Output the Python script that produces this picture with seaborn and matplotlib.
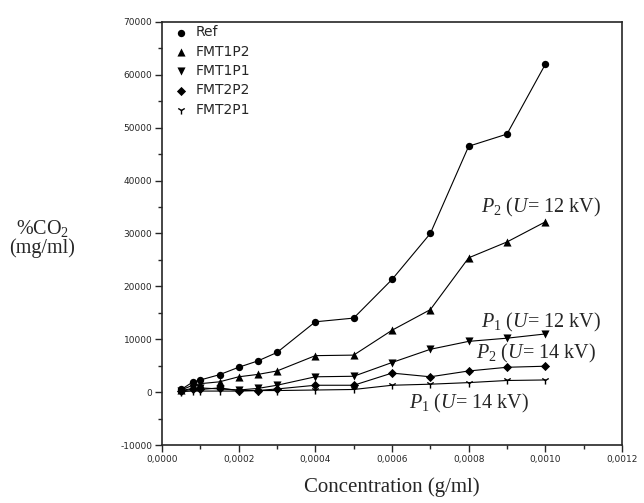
import matplotlib
matplotlib.use('agg')
import matplotlib.pyplot as plt
import seaborn as sns
from matplotlib.ticker import MultipleLocator, FuncFormatter

# data
conc = [0.00005, 0.00008, 0.0001, 0.00015, 0.0002, 0.00025, 0.0003,
        0.0004, 0.0005, 0.0006, 0.0007, 0.0008, 0.0009, 0.0010]
ref = [500, 1900, 2300, 3300, 4700, 5900, 7500,
       13300, 14000, 21300, 30000, 46500, 48800, 62000]
fmt1p2 = [400, 1300, 1600, 1950, 2900, 3350, 4000,
          6900, 7000, 11700, 15600, 25400, 28400, 32200]
fmt1p1 = [300, 700, 800, 600, 400, 700, 1300,
          2900, 3000, 5600, 8100, 9600, 10200, 11000]
fmt2p2 = [200, 500, 500, 800, 300, 300, 600,
          1300, 1300, 3600, 2900, 4000, 4700, 4900]
fmt2p1 = [100, 200, 200, 200, 200, 300, 300,
          400, 500, 1300, 1500, 1800, 2200, 2300]

series = ['Ref', 'FMT1P2', 'FMT1P1', 'FMT2P2', 'FMT2P1']
values = [ref, fmt1p2, fmt1p1, fmt2p2, fmt2p1]
markers = ['o', '^', 'v', 'D', '1']
msizes = [28, 34, 34, 22, 34]

labels = ['$P_2$ ($U$= 12 kV)', '$P_1$ ($U$= 12 kV)',
          '$P_2$ ($U$= 14 kV)', '$P_1$ ($U$= 14 kV)']
label_x = [0.000990, 0.000990, 0.000975, 0.000800]
label_y = [35000, 13200, 7400, -2100]

sns.set_style('ticks')
plt.rcParams['font.family'] = ['DejaVu Sans']
plt.rcParams['mathtext.fontset'] = 'custom'
plt.rcParams['mathtext.rm'] = 'Liberation Serif'
plt.rcParams['mathtext.it'] = 'Liberation Serif:italic'

fig = plt.figure(figsize=(6.44, 5.03), dpi=100)
ax = fig.add_axes([0.2516, 0.1153, 0.7142, 0.8410])

for name, vals, m, s in zip(series, values, markers, msizes):
    sns.lineplot(x=conc, y=vals, ax=ax, color='black', linewidth=0.8,
                 legend=False)
    sns.scatterplot(x=conc, y=vals, ax=ax, marker=m, s=s, color='black',
                    edgecolor='black', linewidth=1.0 if m == '1' else 0,
                    label=name)

ax.set_xlim(0, 0.0012)
ax.set_ylim(-10000, 70000)
ax.xaxis.set_major_locator(MultipleLocator(0.0002))
ax.xaxis.set_minor_locator(MultipleLocator(0.0001))
ax.yaxis.set_major_locator(MultipleLocator(10000))
ax.yaxis.set_minor_locator(MultipleLocator(5000))
ax.xaxis.set_major_formatter(FuncFormatter(lambda v, p: f'{v:.4f}'.replace('.', ',')))
ax.yaxis.set_major_formatter(FuncFormatter(lambda v, p: f'{v:.0f}'))
ax.tick_params(which='major', direction='out', length=5, width=1, labelsize=6.5, pad=2)
ax.tick_params(which='minor', direction='out', length=3, width=1)
for sp in ax.spines.values():
    sp.set_linewidth(1.2)
    sp.set_visible(True)

ax.set_xlabel('Concentration (g/ml)', family='Liberation Serif', fontsize=15, labelpad=10)
ax.set_ylabel('')
fig.text(0.066, 0.527, '%CO$_2$\n(mg/ml)', family='Liberation Serif', fontsize=14.5,
         ha='center', va='center', linespacing=1.0)

for t, x, y in zip(labels, label_x, label_y):
    ax.text(x, y, t, fontsize=14.5, family='Liberation Serif', ha='center', va='center')

leg = ax.legend(loc='upper left', frameon=False, fontsize=10, handletextpad=0.0,
                labelspacing=0.38, borderaxespad=0.0, markerscale=1.0,
                bbox_to_anchor=(0.0, 1.005))

fig.savefig('out.png', dpi=100)
